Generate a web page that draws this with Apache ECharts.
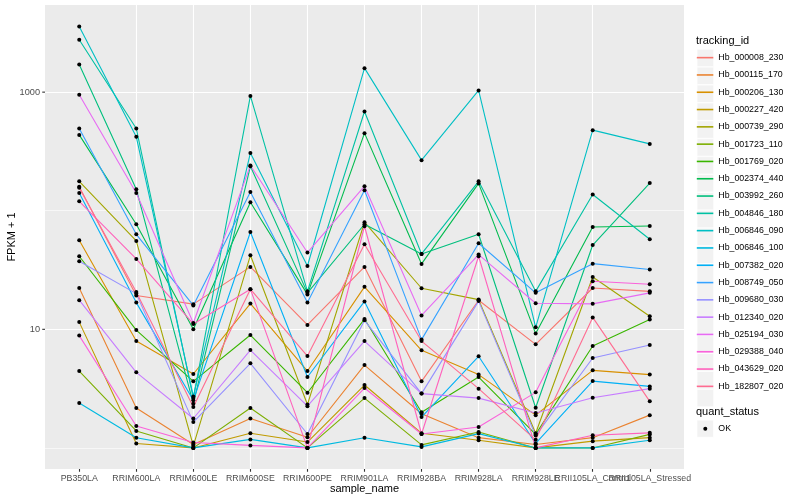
<!DOCTYPE html>
<html>
<head>
<meta charset="utf-8">
<script src="https://cdn.jsdelivr.net/npm/echarts@6/dist/echarts.min.js"></script>
<style>
  html, body { margin: 0; padding: 0; background: #ffffff; }
  #chart { width: 800px; height: 500px; }
</style>
</head>
<body>
<div id="chart"></div>
<script>
// ---------- data (FPKM + 1) ----------
const categories = ['PB350LA', 'RRIM600LA', 'RRIM600LE', 'RRIM600SE', 'RRIM600PE', 'RRIM901LA',
  'RRIM928BA', 'RRIM928LA', 'RRIM928LE', 'RRII105LA_Control', 'RRII105LA_Stressed'];
const trackingIds = ['Hb_000008_230', 'Hb_000115_170', 'Hb_000206_130', 'Hb_000227_420', 'Hb_000739_290',
  'Hb_001723_110', 'Hb_001769_020', 'Hb_002374_440', 'Hb_003992_260', 'Hb_004846_180',
  'Hb_006846_090', 'Hb_006846_100', 'Hb_007382_020', 'Hb_008749_050', 'Hb_009680_030',
  'Hb_012340_020', 'Hb_025194_030', 'Hb_029388_040', 'Hb_043629_020', 'Hb_182807_020'];

const Hb_000008_230 = [159, 19.3, 16.3, 33.6, 10.9, 33.6, 3.64, 17.6, 7.47, 22.3, 20.9];
const Hb_000115_170 = [22.3, 2.17, 1.07, 1.77, 1.23, 4.99, 1.94, 1.22, 1.07, 1.22, 1.89];
const Hb_000206_130 = [56.4, 7.96, 4.2, 16.5, 4.45, 22.8, 6.65, 4.15, 1.89, 4.51, 4.15];
const Hb_000227_420 = [11.5, 1.09, 1.0, 1.33, 1.12, 3.39, 1.33, 1.16, 1.0, 1.14, 1.22];
const Hb_000739_290 = [177, 55.6, 1.04, 42.1, 2.32, 80, 22.2, 17.8, 1.33, 27.6, 12.9];
const Hb_001723_110 = [4.45, 1.39, 1.0, 2.17, 1.0, 2.63, 1.06, 1.36, 1.0, 1.0, 1.3];
const Hb_001769_020 = [41.3, 9.86, 3.64, 8.95, 2.92, 12.2, 2.0, 3.96, 1.3, 7.23, 12.1];
const Hb_002374_440 = [436, 76.9, 10.0, 118, 19.7, 451, 35.6, 170, 9.2, 73.0, 74.4];
const Hb_003992_260 = [1713, 152, 2.36, 237, 20.3, 76.9, 43.2, 63.3, 2.18, 51.4, 171];
const Hb_004846_180 = [2763, 494, 2.63, 930, 20.9, 687, 43.2, 177, 20.9, 137, 57.5];
const Hb_006846_090 = [3584, 420, 2.72, 307, 34.2, 1594, 267, 1033, 10.4, 478, 366];
const Hb_006846_100 = [2.39, 1.22, 1.0, 1.18, 1.0, 1.22, 1.02, 1.32, 1.0, 1.0, 1.16];
const Hb_007382_020 = [141, 16.8, 2.52, 66.2, 3.96, 17.2, 1.82, 5.92, 1.09, 3.66, 3.3];
const Hb_008749_050 = [494, 63.3, 15.9, 144, 16.8, 149, 8.19, 53.2, 20.3, 35.8, 31.9];
const Hb_009680_030 = [37.5, 20.0, 1.65, 5.17, 1.31, 11.9, 2.87, 17.3, 1.27, 5.73, 7.37];
const Hb_012340_020 = [17.6, 4.34, 1.77, 6.69, 2.25, 7.96, 2.87, 2.63, 1.97, 2.65, 3.16];
const Hb_025194_030 = [949, 141, 11.3, 241, 44.4, 161, 13.1, 42.7, 16.6, 16.4, 20.3];
const Hb_029388_040 = [8.85, 1.53, 1.11, 1.05, 1.0, 3.2, 1.31, 1.5, 2.94, 25.4, 24.0];
const Hb_043629_020 = [120, 39.2, 11.1, 21.8, 1.0, 74.0, 1.31, 41.3, 1.0, 1.28, 1.34];
const Hb_182807_020 = [156, 20.6, 2.21, 21.8, 5.95, 52.2, 7.96, 3.16, 1.17, 12.6, 2.47];

const seriesValues = [Hb_000008_230, Hb_000115_170, Hb_000206_130, Hb_000227_420, Hb_000739_290,
  Hb_001723_110, Hb_001769_020, Hb_002374_440, Hb_003992_260, Hb_004846_180,
  Hb_006846_090, Hb_006846_100, Hb_007382_020, Hb_008749_050, Hb_009680_030,
  Hb_012340_020, Hb_025194_030, Hb_029388_040, Hb_043629_020, Hb_182807_020];

const yTickLabels = ['10', '1000'];
const quantStatus = ['OK'];

// ---------- styles ----------
const lineColors = ['#F8766D', '#EA8331', '#D89000', '#C09B00', '#A3A500', '#7CAE00', '#39B600',
  '#00BB4E', '#00BF7D', '#00C1A3', '#00BFC4', '#00BAE0', '#00B0F6', '#35A2FF', '#9590FF',
  '#C77CFF', '#E76BF3', '#FA62DB', '#FF62BC', '#FF6C91'];
const FONT = "'Liberation Sans', Arial, Helvetica, sans-serif";
const AXIS_TEXT = '#4D4D4D';

const chart = echarts.init(document.getElementById('chart'), null, { renderer: 'canvas' });

const catIndex = categories.map((c, i) => i);
// label sets: the axis hides a label squeezed between two neighbours, so the
// crowded one is drawn by a second, label-only axis sharing the same scale
const crowded = [categories.indexOf('RRII105LA_Control')];
const mainLabels = catIndex.filter(i => crowded.indexOf(i) < 0);

const catFormatter = v => {
  const k = Math.round(v);
  return Math.abs(v - k) < 1e-6 && categories[k] !== undefined ? categories[k] : '';
};

const series = trackingIds.map((id, i) => ({
  name: id,
  type: 'line',
  xAxisIndex: 0,
  data: seriesValues[i].map((v, j) => [j, v]),
  symbol: 'circle',
  symbolSize: 4,
  showSymbol: true,
  lineStyle: { color: lineColors[i], width: 1.1 },
  itemStyle: { color: '#000000' },
  emphasis: { disabled: true },
  animation: false
}));

const labelStyle = { fontSize: 8.8, color: AXIS_TEXT, fontFamily: FONT };

const option = {
  animation: false,
  backgroundColor: '#FFFFFF',
  textStyle: { fontFamily: FONT },
  grid: {
    left: 45, right: 116, top: 5, bottom: 31,
    outerBoundsMode: 'none',
    containLabel: false,
    show: true, backgroundColor: '#EBEBEB', borderWidth: 0
  },
  xAxis: [
    {
      type: 'value',
      position: 'bottom',
      min: -0.6, max: 10.6,
      minInterval: 1, maxInterval: 1,
      name: 'sample_name',
      nameLocation: 'middle',
      nameGap: 14,
      nameMoveOverlap: false,
      nameTextStyle: { fontSize: 11, color: '#000000', fontFamily: FONT, verticalAlign: 'top' },
      axisLine: { show: false },
      axisTick: {
        show: true, length: 2.75, inside: false,
        customValues: catIndex,
        lineStyle: { color: '#333333', width: 1.1 }
      },
      axisLabel: Object.assign({
        customValues: mainLabels,
        margin: 5,
        hideOverlap: false,
        showMinLabel: true, showMaxLabel: true,
        formatter: catFormatter
      }, labelStyle),
      splitLine: {
        show: true, showMinLine: false, showMaxLine: false,
        lineStyle: { color: '#FFFFFF', width: 1.1 }
      }
    },
    {
      type: 'value',
      position: 'bottom',
      gridIndex: 0,
      min: -0.6, max: 10.6,
      minInterval: 1, maxInterval: 1,
      axisLine: { show: false },
      axisTick: { show: false },
      splitLine: { show: false },
      axisLabel: Object.assign({
        customValues: crowded,
        margin: 5,
        hideOverlap: false,
        formatter: catFormatter
      }, labelStyle)
    }
  ],
  yAxis: {
    type: 'log',
    logBase: 10,
    min: 0.664, max: 5430,
    name: 'FPKM + 1',
    nameLocation: 'middle',
    nameGap: 28,
    nameMoveOverlap: false,
    nameRotate: 90,
    nameTextStyle: { fontSize: 11, color: '#000000', fontFamily: FONT },
    axisLine: { show: false },
    axisTick: { show: false },
    axisLabel: {
      margin: 0,
      formatter: v => {
        const lv = Math.log10(v);
        const k = Math.round(lv);
        if (Math.abs(lv - k) > 1e-6) return '';
        const s = String(Math.pow(10, k));
        return yTickLabels.indexOf(s) >= 0 ? '{v|' + s + '}{g|}{t|}' : '';
      },
      rich: {
        v: { fontSize: 9.2, color: AXIS_TEXT, fontFamily: FONT },
        g: { width: 2.2, height: 1 },
        t: { width: 2.75, height: 1.1, backgroundColor: '#333333', verticalAlign: 'middle' }
      }
    },
    splitLine: {
      show: true, showMinLine: false, showMaxLine: false,
      lineStyle: { color: ['#F7F7F7', '#FFFFFF'], width: 1.1 }
    }
  },
  legend: [
    {
      orient: 'vertical', left: 696.8, top: 49, padding: 0, itemGap: 0,
      itemWidth: 16.5, itemHeight: 17.3, selectedMode: false, z: 4,
      icon: 'rect',
      itemStyle: { color: '#F2F2F2', borderColor: '#FFFFFF', borderWidth: 0.6 },
      formatter: () => '',
      textStyle: { fontSize: 8.8 },
      data: trackingIds.slice()
    },
    {
      orient: 'vertical', left: 696.8, top: 49, padding: 0, itemGap: 0,
      itemWidth: 16.5, itemHeight: 1.6, selectedMode: false, z: 5,
      icon: 'rect',
      textStyle: { fontSize: 8.8, lineHeight: 17.3, color: '#000000', fontFamily: FONT },
      data: trackingIds.map((id, i) => ({ name: id, itemStyle: { color: lineColors[i], borderWidth: 0 } }))
    }
  ],
  graphic: [
    { type: 'text', x: 696, y: 40.5, silent: true,
      style: { text: 'tracking_id', fontSize: 11, fill: '#000000', fontFamily: FONT, verticalAlign: 'middle' } },
    { type: 'text', x: 696, y: 412.3, silent: true,
      style: { text: 'quant_status', fontSize: 11, fill: '#000000', fontFamily: FONT, verticalAlign: 'middle' } },
    { type: 'rect', silent: true, shape: { x: 697, y: 420.2, width: 16.5, height: 17 },
      style: { fill: '#F2F2F2', stroke: '#FFFFFF', lineWidth: 0.6 } },
    { type: 'circle', silent: true, shape: { cx: 705.3, cy: 428.7, r: 2 }, style: { fill: '#000000' } },
    { type: 'text', x: 718.3, y: 428.7, silent: true,
      style: { text: quantStatus[0], fontSize: 8.8, fill: '#000000', fontFamily: FONT, verticalAlign: 'middle' } }
  ],
  series: series
};

chart.setOption(option);
</script>
</body>
</html>
